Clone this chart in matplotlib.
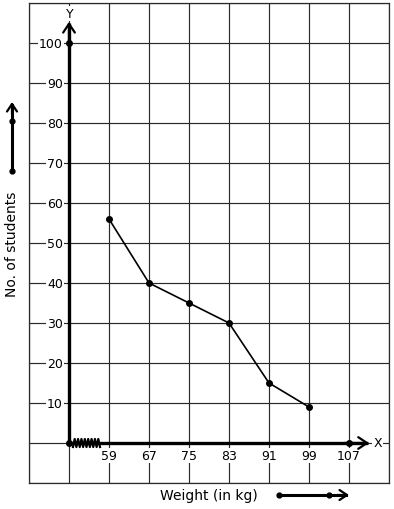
import matplotlib
matplotlib.use("Agg")
import matplotlib.pyplot as plt
import numpy as np

weights = [59, 67, 75, 83, 91, 99]
students = [56, 40, 35, 30, 15, 9]
x_ticks = [59, 67, 75, 83, 91, 99, 107]
y_ticks = [10, 20, 30, 40, 50, 60, 70, 80, 90, 100]

W, H = 394, 510
fig = plt.figure(figsize=(W / 100, H / 100), dpi=100)
ax = fig.add_axes([29 / W, 26 / H, 360 / W, 480 / H])
ax.set_xlim(43, 115)
ax.set_ylim(-10, 110)
for s in ax.spines.values():
    s.set_color('#2a2a2a')
    s.set_linewidth(0.9)
ax.set_xticks(np.arange(43, 116, 8))
ax.set_yticks(np.arange(-10, 111, 10))
ax.tick_params(length=0, labelbottom=False, labelleft=False)
ax.grid(True, color='#2a2a2a', linewidth=0.85)
ax.set_axisbelow(True)

fs = 9
origin_x = 51
head = dict(arrowstyle='->, head_length=0.45, head_width=0.3', lw=1.6, color='black',
            mutation_scale=14, shrinkA=0, shrinkB=0)
# axes shafts
ax.plot([origin_x, origin_x], [0, 105], color='black', lw=2.4, zorder=5, solid_capstyle='butt')
ax.plot([origin_x, 110.8], [0, 0], color='black', lw=2.4, zorder=5, solid_capstyle='butt')
ax.annotate('', xy=(origin_x, 105.3), xytext=(origin_x, 100), arrowprops=head, zorder=5)
ax.annotate('', xy=(111.0, 0), xytext=(106, 0), arrowprops=head, zorder=5)
ax.plot([origin_x, origin_x, 107], [0, 100, 0], 'o', color='black', ms=4, zorder=6)
wb = dict(facecolor='white', edgecolor='none', pad=0.5)
ax.text(51.2, 107.4, 'Y', ha='center', va='center', fontsize=fs, bbox=wb, zorder=4)
ax.text(112.7, 0, 'X', ha='center', va='center', fontsize=fs, bbox=wb, zorder=4)

# zigzag break on x-axis
zx = np.linspace(51.8, 57.2, 17)
zy = np.where(np.arange(17) % 2 == 0, -1.0, 1.0)
ax.plot(zx, zy, color='black', lw=1.6, zorder=6)

bbox = dict(facecolor='white', edgecolor='none', pad=0.6)
for v in y_ticks:
    ax.text(49.8, v, str(v), ha='right', va='center', fontsize=fs, bbox=bbox, zorder=4)
for v in x_ticks:
    ax.text(v, -3.2, str(v), ha='center', va='center', fontsize=fs, bbox=bbox, zorder=4)

ax.plot(weights, students, color='black', lw=1.2, marker='o', ms=4, zorder=7)

# outside labels with arrows
fig.text(12 / W, 266 / H, 'No. of students', rotation=90, ha='center', va='center', fontsize=10)
fig.text(209 / W, 14 / H, 'Weight (in kg)', ha='center', va='center', fontsize=10)

head2 = dict(arrowstyle='->, head_length=0.45, head_width=0.3', lw=1.6, color='black',
             mutation_scale=12, shrinkA=0, shrinkB=0)
fig.add_artist(plt.Line2D([12 / W, 12 / W], [338 / H, 404 / H], lw=2.2, color='black',
                          transform=fig.transFigure))
fig.add_artist(plt.Line2D([279 / W, 346 / W], [14 / H, 14 / H], lw=2.2, color='black',
                          transform=fig.transFigure))
ax.annotate('', xy=(12, 407), xytext=(12, 395), xycoords='figure pixels',
            textcoords='figure pixels', arrowprops=head2, annotation_clip=False)
ax.annotate('', xy=(349, 14), xytext=(337, 14), xycoords='figure pixels',
            textcoords='figure pixels', arrowprops=head2, annotation_clip=False)
for (px, py) in [(12, 338), (12, 388), (279, 14), (329, 14)]:
    fig.add_artist(plt.Line2D([px / W], [py / H], marker='o', ms=3.5, color='black',
                              transform=fig.transFigure))

fig.savefig('out.png', dpi=100)
